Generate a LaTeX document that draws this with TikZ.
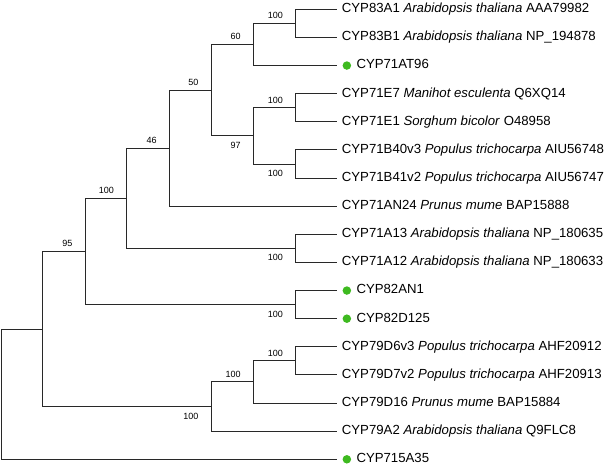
\documentclass[tikz,border=0pt]{standalone}
\usepackage{fontspec}
\setmainfont{Liberation Sans}
\usetikzlibrary{positioning}

\definecolor{dotgreen}{RGB}{62,186,32}
\definecolor{treeline}{RGB}{40,40,40}

\begin{document}
\begin{tikzpicture}[
  x=1pt, y=-1pt,
  branch/.style={draw=treeline, line width=0.9pt},
  leaf/.style={inner sep=0pt, anchor=west, font=\fontsize{13.2}{14}\selectfont, text height=0.72em, text depth=0.05em},
  bs/.style={inner sep=0pt, font=\fontsize{9}{9}\selectfont},
  mark dot/.style={circle, fill=dotgreen, inner sep=0pt, minimum size=8.5pt}
]
  \useasboundingbox (0,0) rectangle (611,467);

  % leaf tips
  \foreach \i in {1,...,17}
    \coordinate (t\i) at (336.7, 9.3+28.125*\i-28.125);

  % leaf labels
  \node[leaf, right=5pt of t1] (l1) {CYP83A1 \textit{Arabidopsis thaliana} AAA79982};
  \node[leaf, right=5pt of t2] (l2) {CYP83B1 \textit{Arabidopsis thaliana} NP\_194878};
  \node[mark dot, right=5.7pt of t3] (d3) {};
  \node[leaf, right=5pt of d3] (l3) {CYP71AT96};
  \node[leaf, right=5pt of t4] (l4) {CYP71E7 \textit{Manihot esculenta} Q6XQ14};
  \node[leaf, right=5pt of t5] (l5) {CYP71E1 \textit{Sorghum bicolor} O48958};
  \node[leaf, right=5pt of t6] (l6) {CYP71B40v3 \textit{Populus trichocarpa} AIU56748};
  \node[leaf, right=5pt of t7] (l7) {CYP71B41v2 \textit{Populus trichocarpa} AIU56747};
  \node[leaf, right=5pt of t8] (l8) {CYP71AN24 \textit{Prunus mume} BAP15888};
  \node[leaf, right=5pt of t9] (l9) {CYP71A13 \textit{Arabidopsis thaliana} NP\_180635};
  \node[leaf, right=5pt of t10] (l10) {CYP71A12 \textit{Arabidopsis thaliana} NP\_180633};
  \node[mark dot, right=5.7pt of t11] (d11) {};
  \node[leaf, right=5pt of d11] (l11) {CYP82AN1};
  \node[mark dot, right=5.7pt of t12] (d12) {};
  \node[leaf, right=5pt of d12] (l12) {CYP82D125};
  \node[leaf, right=5pt of t13] (l13) {CYP79D6v3 \textit{Populus trichocarpa} AHF20912};
  \node[leaf, right=5pt of t14] (l14) {CYP79D7v2 \textit{Populus trichocarpa} AHF20913};
  \node[leaf, right=5pt of t15] (l15) {CYP79D16 \textit{Prunus mume} BAP15884};
  \node[leaf, right=5pt of t16] (l16) {CYP79A2 \textit{Arabidopsis thaliana} Q9FLC8};
  \node[mark dot, right=5.7pt of t17] (d17) {};
  \node[leaf, right=5pt of d17] (l17) {CYP715A35};

  % internal nodes
  \coordinate (n83)  at (295.7, 23.3);
  \coordinate (n60)  at (253.3, 44.4);
  \coordinate (n71e) at (295.7, 107.7);
  \coordinate (n71b) at (295.7, 164.0);
  \coordinate (n97)  at (253.3, 135.8);
  \coordinate (n50)  at (211.0, 90.1);
  \coordinate (n46)  at (169.3, 148.1);
  \coordinate (n71a) at (295.7, 248.3);
  \coordinate (n100) at (126.7, 198.2);
  \coordinate (n82)  at (295.7, 304.6);
  \coordinate (n95)  at (85.0, 251.4);
  \coordinate (n79d) at (295.7, 360.9);
  \coordinate (n79a) at (253.3, 381.9);
  \coordinate (n79)  at (211.0, 406.6);
  \coordinate (n76)  at (42.7, 329.0);
  \coordinate (root) at (1.0, 394.1);

  % branches
  \draw[branch] (n83) |- (t1) (n83) |- (t2);
  \draw[branch] (n60) |- (n83) (n60) |- (t3);
  \draw[branch] (n71e) |- (t4) (n71e) |- (t5);
  \draw[branch] (n71b) |- (t6) (n71b) |- (t7);
  \draw[branch] (n97) |- (n71e) (n97) |- (n71b);
  \draw[branch] (n50) |- (n60) (n50) |- (n97);
  \draw[branch] (n46) |- (n50) (n46) |- (t8);
  \draw[branch] (n71a) |- (t9) (n71a) |- (t10);
  \draw[branch] (n100) |- (n46) (n100) |- (n71a);
  \draw[branch] (n82) |- (t11) (n82) |- (t12);
  \draw[branch] (n95) |- (n100) (n95) |- (n82);
  \draw[branch] (n79d) |- (t13) (n79d) |- (t14);
  \draw[branch] (n79a) |- (n79d) (n79a) |- (t15);
  \draw[branch] (n79) |- (n79a) (n79) |- (t16);
  \draw[branch] (n76) |- (n95) (n76) |- (n79);
  \draw[branch] (root) |- (n76) (root) |- (t17);

  % bootstrap values
  \node[bs, above left=4.3pt and 12.5pt of n83] (b83) {100};
  \node[bs, above left=4.3pt and 12.5pt of n60] (b60) {60};
  \node[bs, above left=4.3pt and 12.5pt of n50] (b50) {50};
  \node[bs, above left=4.3pt and 12.5pt of n71e] (b71e) {100};
  \node[bs, below left=6pt and 12.5pt of n97] (b97) {97};
  \node[bs, below left=6pt and 12.5pt of n71b] (b71b) {100};
  \node[bs, above left=4.3pt and 12.5pt of n46] (b46) {46};
  \node[bs, above left=4.3pt and 12.5pt of n100] (b100) {100};
  \node[bs, below left=6pt and 12.5pt of n71a] (b71a) {100};
  \node[bs, above left=4.3pt and 12.5pt of n95] (b95) {95};
  \node[bs, below left=6pt and 12.5pt of n82] (b82) {100};
  \node[bs, above left=4.3pt and 12.5pt of n79d] (b79d) {100};
  \node[bs, above left=4.3pt and 12.5pt of n79a] (b79a) {100};
  \node[bs, below left=6pt and 12.5pt of n79] (b79) {100};
\end{tikzpicture}
\end{document}
